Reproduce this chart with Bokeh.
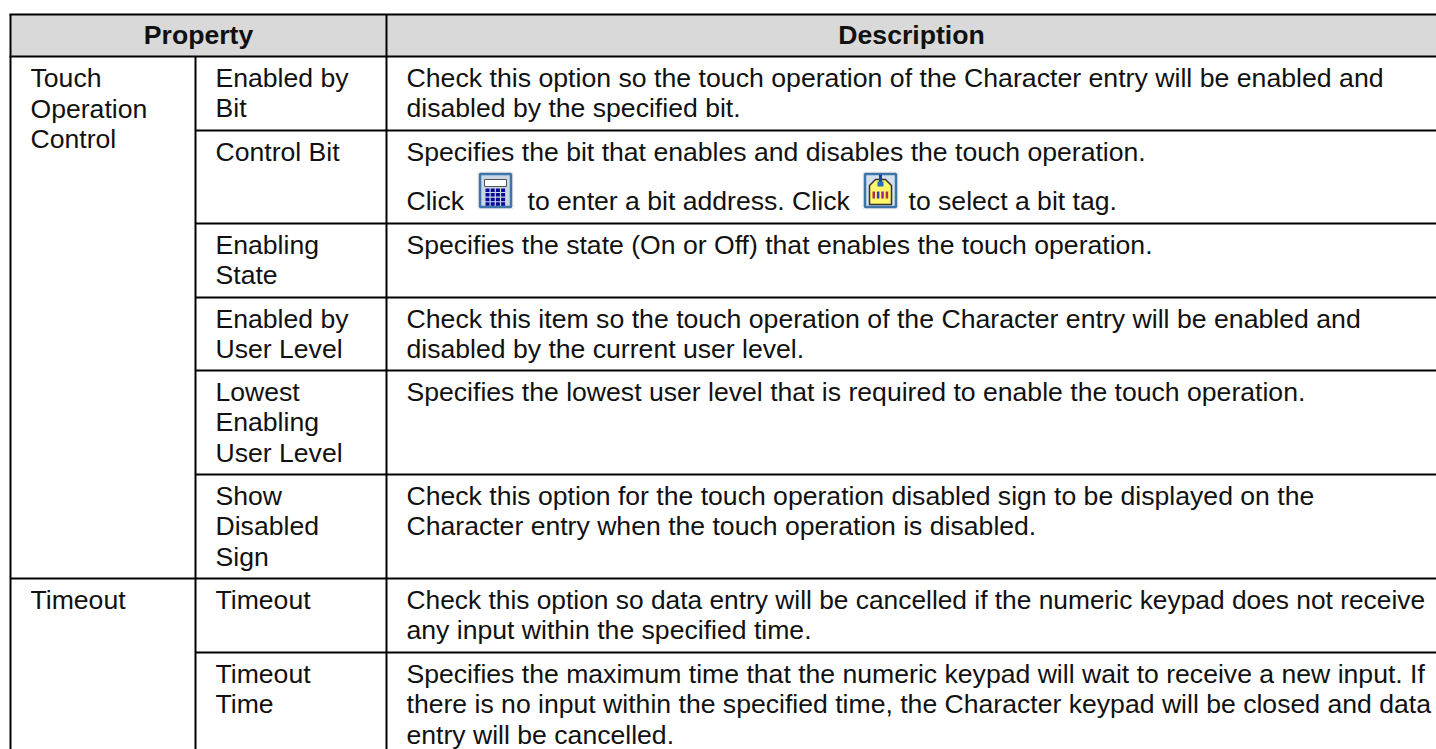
from bokeh.plotting import figure
from bokeh.embed import file_html
from bokeh.resources import INLINE
from bokeh.core.properties import value
from bokeh.models import Range1d

header_labels = ["Property", "Description"]
group_labels = [["Touch", "Operation", "Control"], ["Timeout"]]
property_labels = [
    ["Enabled by", "Bit"], ["Control Bit"], ["Enabling", "State"],
    ["Enabled by", "User Level"], ["Lowest", "Enabling", "User Level"],
    ["Show", "Disabled", "Sign"], ["Timeout"], ["Timeout", "Time"],
]
descriptions = [
    ["Check this option so the touch operation of the Character entry will be enabled and", "disabled by the specified bit."],
    ["Specifies the bit that enables and disables the touch operation."],
    ["Specifies the state (On or Off) that enables the touch operation."],
    ["Check this item so the touch operation of the Character entry will be enabled and", "disabled by the current user level."],
    ["Specifies the lowest user level that is required to enable the touch operation."],
    ["Check this option for the touch operation disabled sign to be displayed on the", "Character entry when the touch operation is disabled."],
    ["Check this option so data entry will be cancelled if the numeric keypad does not receive", "any input within the specified time."],
    ["Specifies the maximum time that the numeric keypad will wait to receive a new input. If", "there is no input within the specified time, the Character keypad will be closed and data", "entry will be cancelled."],
]
click_parts = ["Click", "to enter a bit address. Click", "to select a bit tag."]

W, H = 1436, 749
FONT = value("Liberation Sans")
FS = 26.6
SHIFT = 9.5  # the page draws text lower than the given y by about this much
TOP, HEAD = 14, 56
X0, X1, X2 = 10, 195, 386
ROWS = [56, 130, 223, 297, 370, 474, 578, 652, 780]
GROUP_ROWS = [0, 6]
PITCH = 30.7
LINE_FIT = {(0, 0): 26.68, (3, 0): 26.66, (6, 0): 26.33}

p = figure(width=W, height=H, output_backend="svg", toolbar_location=None,
           x_range=Range1d(0, W), y_range=Range1d(H, 0), min_border=0,
           outline_line_color=None, background_fill_color="white",
           styles={"position": "absolute", "left": "0px", "top": "0px"})
p.axis.visible = False
p.grid.visible = False

p.quad(left=[X0], right=[W + 5], top=[TOP], bottom=[HEAD], fill_color="#d9d9d9", line_color=None)

def hline(x0, x1, y):
    p.line([x0, x1], [y, y], line_color="black", line_width=2)

def vline(x, y0, y1):
    p.line([x, x], [y0, y1], line_color="black", line_width=2)

hline(X0 - 1, W + 5, TOP)
hline(X0 - 1, W + 5, HEAD)
for i, y in enumerate(ROWS[1:-1], start=1):
    hline((X0 if i in GROUP_ROWS else X1), W + 5, y)
vline(X0, TOP, H + 5)
vline(X2, TOP, H + 5)
vline(X1, HEAD, H + 5)

def put(x, y, s, bold=False, align="left", size=FS):
    p.text([x], [y - SHIFT], text=[s], text_font=FONT, text_font_size=f"{size}px",
            text_font_style="bold" if bold else "normal", text_color="#111111",
            text_align=align, text_baseline="alphabetic")

put((X0 + X2) / 2, 44, header_labels[0], bold=True, align="center")
put((X2 + W) / 2, 44, header_labels[1], bold=True, align="center")

for gi, lines in zip(GROUP_ROWS, group_labels):
    for j, s in enumerate(lines):
        put(30, ROWS[gi] + 31 + j * PITCH, s)
for i, lines in enumerate(property_labels):
    for j, s in enumerate(lines):
        put(215, ROWS[i] + 30.5 + j * PITCH, s)
for i, lines in enumerate(descriptions):
    for j, s in enumerate(lines):
        put(406, ROWS[i] + 30.5 + j * PITCH, s, size=LINE_FIT.get((i, j), FS))

put(406, 210, click_parts[0])
put(527, 210, click_parts[1])
put(908, 210, click_parts[2])

def icon_base(x, y, w, h, fill):
    p.quad(left=[x], right=[x + w], top=[y], bottom=[y + h], fill_color="#eeeeee", line_color=None)
    p.quad(left=[x + 2.5], right=[x + w - 2.5], top=[y + 2.5], bottom=[y + h - 2.5],
           fill_color=fill, line_color="#3f74a8", line_width=2.5)

cx, cy = 477, 171
icon_base(cx, cy, 36, 38, "#c9d6e4")
p.quad(left=[cx + 7], right=[cx + 29], top=[cy + 8], bottom=[cy + 15], fill_color="white", line_color="#555555")
for r in range(4):
    for c in range(4):
        p.quad(left=[cx + 8 + c * 5.2], right=[cx + 12 + c * 5.2], top=[cy + 17 + r * 4.6], bottom=[cy + 20.5 + r * 4.6],
               fill_color="#0a0a96", line_color=None)

tx, ty = 862, 171
icon_base(tx, ty, 36, 38, "#d4e0ec")
p.patch([tx + 7, tx + 13, tx + 23, tx + 29, tx + 29, tx + 7],
        [ty + 14, ty + 8, ty + 8, ty + 14, ty + 33, ty + 33],
        fill_color="#fff76a", line_color="#333333", line_width=1.5)
p.quad(left=[tx + 16.5], right=[tx + 19.5], top=[ty + 3], bottom=[ty + 11], fill_color="#1f3fa0", line_color=None)
p.quad(left=[tx + 15], right=[tx + 21], top=[ty + 10], bottom=[ty + 15], fill_color="#1f6fc0", line_color=None)
for k, col in enumerate(["#b03040", "#2a40b0", "#a02090", "#b03040"]):
    p.quad(left=[tx + 10 + k * 4.4], right=[tx + 12.5 + k * 4.4], top=[ty + 20], bottom=[ty + 27], fill_color=col, line_color=None)

open("out.html", "w").write(file_html(p, INLINE))
